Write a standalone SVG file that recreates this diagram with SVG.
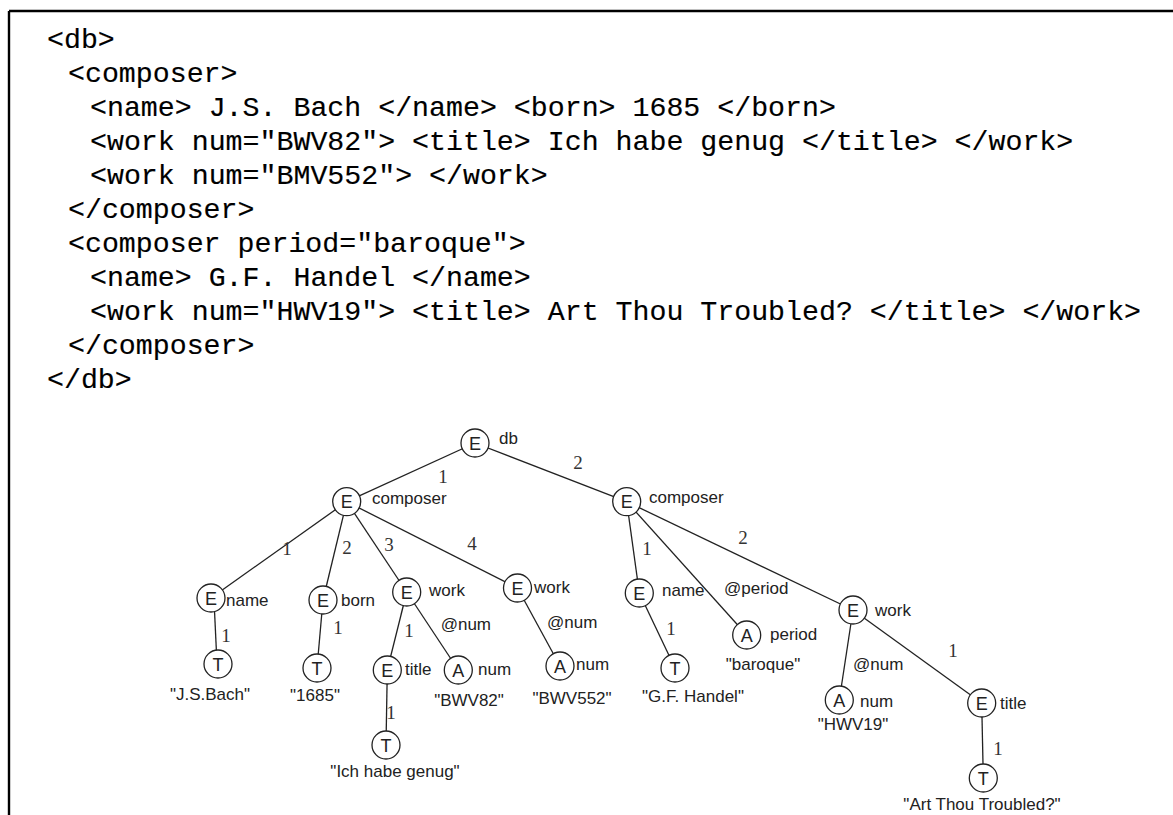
<svg xmlns="http://www.w3.org/2000/svg" width="1173" height="815" viewBox="0 0 1173 815">
<style>
.code{font-family:"Liberation Mono","DejaVu Sans Mono",monospace;font-size:28.25px;fill:#000;stroke:#000;stroke-width:0.15}
.lbl{font-family:"Liberation Sans",Arial,sans-serif;font-size:17px;fill:#222}
.mid{text-anchor:middle}
.num{font-family:"Liberation Serif","Times New Roman",serif;font-size:19px;fill:#333;text-anchor:middle}
.node circle{fill:#fff;stroke:#222;stroke-width:1.3}
.ch{font-family:"Liberation Sans",Arial,sans-serif;font-size:18px;fill:#222;text-anchor:middle}
.edges line{stroke:#222;stroke-width:1.3}
</style>
<rect width="1173" height="815" fill="#fff"/>
<g id="frame" stroke="#000" stroke-width="2.4">
<line x1="9" y1="11" x2="1173" y2="11"/>
<line x1="9" y1="11" x2="9" y2="815"/>
</g>
<g id="code">
<text class="code" x="47" y="48">&lt;db&gt;</text>
<text class="code" x="68" y="82">&lt;composer&gt;</text>
<text class="code" x="90" y="116">&lt;name&gt; J.S. Bach &lt;/name&gt; &lt;born&gt; 1685 &lt;/born&gt;</text>
<text class="code" x="90" y="150">&lt;work num="BWV82"&gt; &lt;title&gt; Ich habe genug &lt;/title&gt; &lt;/work&gt;</text>
<text class="code" x="90" y="184">&lt;work num="BMV552"&gt; &lt;/work&gt;</text>
<text class="code" x="68" y="218">&lt;/composer&gt;</text>
<text class="code" x="68" y="252">&lt;composer period="baroque"&gt;</text>
<text class="code" x="90" y="286">&lt;name&gt; G.F. Handel &lt;/name&gt;</text>
<text class="code" x="90" y="320">&lt;work num="HWV19"&gt; &lt;title&gt; Art Thou Troubled? &lt;/title&gt; &lt;/work&gt;</text>
<text class="code" x="68" y="354">&lt;/composer&gt;</text>
<text class="code" x="47" y="388">&lt;/db&gt;</text>
</g>
<g id="connectors" class="edges">
<line x1="475" y1="443" x2="346.7" y2="501.7"/>
<line x1="475" y1="443" x2="626.7" y2="501.7"/>
<line x1="346.7" y1="501.7" x2="211" y2="598"/>
<line x1="346.7" y1="501.7" x2="323" y2="600"/>
<line x1="346.7" y1="501.7" x2="406.7" y2="592"/>
<line x1="346.7" y1="501.7" x2="517.5" y2="588"/>
<line x1="626.7" y1="501.7" x2="639.3" y2="593"/>
<line x1="626.7" y1="501.7" x2="746.7" y2="635"/>
<line x1="626.7" y1="501.7" x2="853" y2="610"/>
<line x1="214" y1="600" x2="217" y2="664"/>
<line x1="323" y1="600" x2="317" y2="668"/>
<line x1="406.7" y1="592" x2="387.3" y2="670"/>
<line x1="406.7" y1="592" x2="458.3" y2="670"/>
<line x1="387.3" y1="670" x2="386" y2="745"/>
<line x1="517.5" y1="588" x2="560" y2="666"/>
<line x1="639.3" y1="593" x2="675" y2="668"/>
<line x1="853" y1="610" x2="839.3" y2="700"/>
<line x1="853" y1="610" x2="981.7" y2="703"/>
<line x1="981.7" y1="703" x2="983.3" y2="778"/>
<text class="num" x="443" y="483">1</text>
<text class="num" x="578" y="469">2</text>
<text class="num" x="287" y="555">1</text>
<text class="num" x="347" y="554">2</text>
<text class="num" x="389" y="551">3</text>
<text class="num" x="472" y="550">4</text>
<text class="num" x="226" y="642">1</text>
<text class="num" x="338" y="634">1</text>
<text class="num" x="409" y="637">1</text>
<text class="num" x="391" y="719">1</text>
<text class="num" x="647" y="555">1</text>
<text class="num" x="743" y="544">2</text>
<text class="num" x="671" y="635">1</text>
<text class="num" x="953" y="657">1</text>
<text class="num" x="998" y="755">1</text>
<text class="lbl" x="440.7" y="630">@num</text>
<text class="lbl" x="547" y="628">@num</text>
<text class="lbl" x="724" y="594">@period</text>
<text class="lbl" x="853" y="670">@num</text>
</g>
<g id="n-db" class="node"><circle cx="475" cy="443" r="14"/><text class="ch" x="475" y="449.5">E</text><text class="lbl" x="499" y="444">db</text></g>
<g id="n-composer1" class="node"><circle cx="346.7" cy="501.7" r="14"/><text class="ch" x="346.7" y="508">E</text><text class="lbl" x="372" y="504">composer</text></g>
<g id="n-composer2" class="node"><circle cx="626.7" cy="501.7" r="14"/><text class="ch" x="626.7" y="508">E</text><text class="lbl" x="649" y="503">composer</text></g>
<g id="n-name1" class="node"><circle cx="211" cy="598" r="14"/><text class="ch" x="211" y="604.5">E</text><text class="lbl" x="226" y="606">name</text></g>
<g id="n-born" class="node"><circle cx="323" cy="600" r="14"/><text class="ch" x="323" y="607">E</text><text class="lbl" x="341" y="606">born</text></g>
<g id="n-work1" class="node"><circle cx="406.7" cy="592" r="14"/><text class="ch" x="406.7" y="598.5">E</text><text class="lbl" x="429" y="596">work</text></g>
<g id="n-work2" class="node"><circle cx="517.5" cy="588" r="14"/><text class="ch" x="517.5" y="594.5">E</text><text class="lbl" x="534" y="593">work</text></g>
<g id="n-name2" class="node"><circle cx="639.3" cy="593" r="14"/><text class="ch" x="639.3" y="599.5">E</text><text class="lbl" x="662" y="596">name</text></g>
<g id="n-period" class="node"><circle cx="746.7" cy="635" r="14"/><text class="ch" x="746.7" y="641.5">A</text><text class="lbl" x="770" y="640">period</text><text class="lbl mid" x="763" y="670">"baroque"</text></g>
<g id="n-work3" class="node"><circle cx="853" cy="610" r="14"/><text class="ch" x="853" y="616.5">E</text><text class="lbl" x="875" y="616">work</text></g>
<g id="n-tbach" class="node"><circle cx="218" cy="664" r="14"/><text class="ch" x="218" y="670.5">T</text><text class="lbl mid" x="210" y="700">"J.S.Bach"</text></g>
<g id="n-t1685" class="node"><circle cx="317" cy="668" r="14"/><text class="ch" x="317" y="674.5">T</text><text class="lbl mid" x="315" y="701">"1685"</text></g>
<g id="n-title1" class="node"><circle cx="387.3" cy="670" r="14"/><text class="ch" x="387.3" y="676.5">E</text><text class="lbl" x="405" y="675">title</text></g>
<g id="n-bwv82" class="node"><circle cx="458.3" cy="670" r="14"/><text class="ch" x="458.3" y="676.5">A</text><text class="lbl" x="478" y="675">num</text><text class="lbl mid" x="469" y="706">"BWV82"</text></g>
<g id="n-tich" class="node"><circle cx="386" cy="745" r="14"/><text class="ch" x="386" y="751.5">T</text><text class="lbl mid" x="395" y="777">"Ich habe genug"</text></g>
<g id="n-bwv552" class="node"><circle cx="560" cy="666" r="14"/><text class="ch" x="560" y="672.5">A</text><text class="lbl" x="576" y="670">num</text><text class="lbl mid" x="572" y="704">"BWV552"</text></g>
<g id="n-thandel" class="node"><circle cx="675" cy="668" r="14"/><text class="ch" x="675" y="674.5">T</text><text class="lbl mid" x="693" y="702">"G.F. Handel"</text></g>
<g id="n-hwv19" class="node"><circle cx="839.3" cy="700" r="14"/><text class="ch" x="839.3" y="706.5">A</text><text class="lbl" x="860" y="707">num</text><text class="lbl mid" x="853" y="730">"HWV19"</text></g>
<g id="n-title2" class="node"><circle cx="981.7" cy="703" r="14"/><text class="ch" x="981.7" y="709.5">E</text><text class="lbl" x="1000" y="709">title</text></g>
<g id="n-tart" class="node"><circle cx="983.3" cy="778" r="14"/><text class="ch" x="983.3" y="784.5">T</text><text class="lbl mid" x="982" y="810">"Art Thou Troubled?"</text></g>
</svg>
